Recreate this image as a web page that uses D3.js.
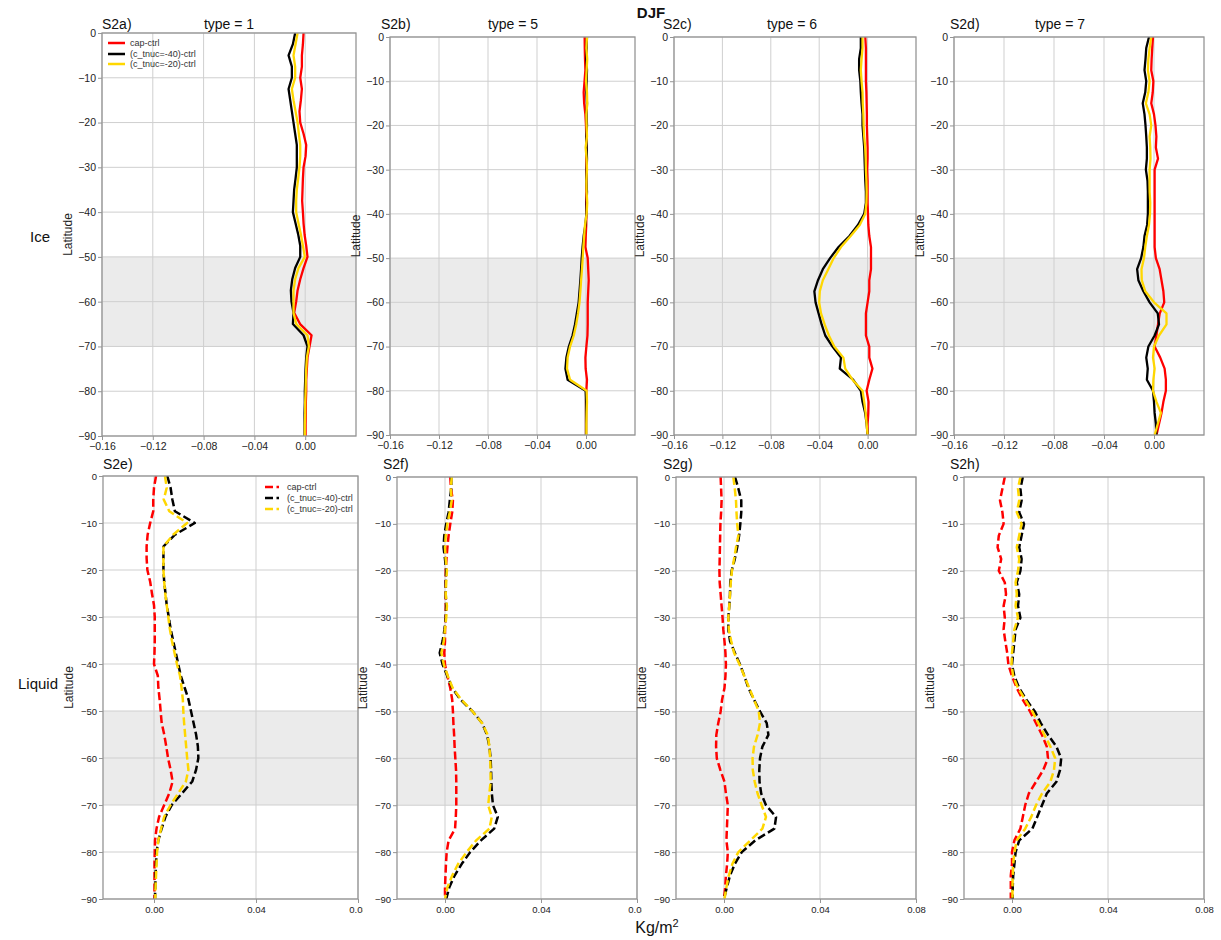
<!DOCTYPE html>
<html><head><meta charset="utf-8">
<script src="https://cdn.jsdelivr.net/npm/d3@7"></script>
<style>body{margin:0;background:#fff} svg{font-family:"Liberation Sans",Arial,Helvetica,sans-serif}</style>
</head><body><svg id="c" width="1221" height="940"></svg>
<script>
// ---------- data (values in 10^-3 Kg/m^2) ----------
const UNIT = 0.001;
const lat = [0,-2.5,-5,-7.5,-10,-12.5,-15,-17.5,-20,-22.5,-25,-27.5,-30,-32.5,-35,-37.5,-40,-42.5,-45,-47.5,-50,-52.5,-55,-57.5,-60,-62.5,-65,-67.5,-70,-72.5,-75,-77.5,-80,-82.5,-85,-87.5,-90];
const latTicks = [0,-10,-20,-30,-40,-50,-60,-70,-80,-90];
const iceTicks = [-0.16,-0.12,-0.08,-0.04,0.00];
const liqTicks = [0.00,0.04,0.08];
const iceDomain = [-0.16,0.04];
const liqDomain = [-0.02,0.08];
const bandLat = [-50,-70];
const seriesNames = ["cap-ctrl","(c_tnuc=-40)-ctrl","(c_tnuc=-20)-ctrl"];
const seriesColors = ["#ff0000","#000000","#ffd700"];
const rowNames = ["Ice","Liquid"];

// Ice, type = 1
const ice_t1_cap = [-1.3,-1.8,-2.6,-2.6,-3.9,-2.6,-3.4,-4.5,-3.9,-1.3,0.8,0.3,-1.3,-1.8,-2.1,-2.4,-1.8,-1.3,-0.5,0.8,1.8,-1.3,-3.9,-6.0,-7.1,-8.7,-4.0,5.0,3.4,1.8,1.3,0.8,0.8,0.5,0.5,0.3,0.3];
const ice_t1_m40 = [-7.9,-9.7,-13.1,-10.5,-10.5,-13.1,-11.8,-10.5,-9.2,-7.9,-6.6,-6.6,-6.6,-7.6,-8.7,-9.2,-9.7,-7.6,-5.5,-3.9,-3.9,-7.9,-10.2,-11.3,-10.8,-9.2,-9.7,-1.3,1.8,0.8,0.3,0,-0.3,-0.3,-0.5,-0.5,-0.5];
const ice_t1_m20 = [-6.0,-7.6,-9.2,-7.9,-7.9,-10.5,-9.2,-7.6,-6.0,-5.0,-3.9,-3.9,-4.5,-5.5,-6.6,-7.1,-7.1,-5.3,-3.4,-1.8,-0.3,-5.3,-7.9,-9.2,-9.2,-9.2,-7.1,1.8,2.9,1.3,0.8,0.5,0.3,0,0,-0.3,-0.3];
// Ice, type = 5
const ice_t5_cap = [-1.1,-1.0,-0.8,-0.5,-1.2,-1.9,-1.5,-0.5,0,0.2,0.3,0.2,0.3,0.2,0.3,0.2,0.3,0.2,-0.2,-0.5,1.4,1.8,2.2,1.8,1.4,1.4,1.4,1.2,0.3,-0.5,-0.3,0.8,0.3,0,0,0,0];
const ice_t5_m40 = [0.8,0.5,0.3,0.8,0.5,0.3,0.8,0.5,0.8,0.3,0.5,0.8,0.5,0.3,0.8,0.5,0.3,-0.5,-1.9,-2.8,-3.5,-4.0,-4.6,-5.3,-6.0,-7.5,-9.0,-11.0,-14.0,-16.0,-16.8,-15.0,-0.3,0,0,0,0];
const ice_t5_m20 = [0.8,0.3,1.0,0.5,0,0.8,1.0,0.3,0.5,0.8,-0.3,0.5,0.8,0.3,0.5,1.0,0.5,-0.8,-1.5,-2.2,-2.7,-3.3,-4.0,-4.6,-5.3,-6.5,-8.0,-10.0,-13.0,-15.0,-15.5,-13.0,0.5,0.8,0.5,0.3,0.3];
// Ice, type = 6
const ice_t6_cap = [-1.9,-1.4,-1.4,-1.4,-1.4,-1.0,-0.8,-0.6,-0.6,-0.3,0,0,-0.3,0,0,0,0.3,0.6,1.4,2.8,2.8,2.8,1.4,1.4,0,-1.4,-1.4,-1.4,1.4,1.4,4.0,1.4,-0.8,0.8,0.6,0,0];
const ice_t6_m40 = [-5.6,-5.6,-7.0,-7.0,-6.0,-5.6,-5.0,-4.2,-4.2,-3.5,-2.8,-2.5,-2.2,-1.9,-1.4,-1.4,-2.8,-8.0,-15.0,-24.0,-31.0,-37.0,-41.0,-44.0,-43.0,-40.5,-38.0,-35.0,-29.0,-22.0,-23.0,-12.0,-5.6,-4.2,-2.0,-0.8,0];
const ice_t6_m20 = [-4.2,-4.2,-5.0,-5.6,-5.0,-4.2,-4.0,-3.5,-3.3,-2.8,-2.0,-1.6,-1.4,-1.0,-0.8,-1.0,-2.0,-6.5,-14.0,-22.0,-28.0,-32.5,-37.0,-39.5,-40.0,-38.5,-35.5,-32.0,-27.5,-20.0,-18.5,-12.5,-4.2,-2.8,-1.6,-0.8,0];
// Ice, type = 7
const ice_t7_cap = [-0.8,-1.4,-1.9,-2.2,-0.5,-1.0,-2.2,0,1.2,1.9,1.5,3.2,0.5,0.5,0.5,0.5,0.5,0.5,0.5,0.5,1.5,4.5,6.0,7.5,8.2,4.6,3.2,1.9,0.5,5.0,8.5,9.5,9.5,7.5,6.0,4.0,2.0];
const ice_t7_m40 = [-4.0,-6.2,-6.8,-7.6,-6.2,-7.0,-9.0,-7.6,-6.8,-6.2,-5.7,-5.7,-6.5,-5.2,-4.9,-4.9,-4.9,-5.5,-7.6,-8.5,-10.3,-13.5,-12.5,-8.5,-3.5,3.0,4.0,0.5,-4.5,-6.2,-5.0,-5.7,-0.8,0,0.5,1.5,1.9];
const ice_t7_m20 = [-2.2,-3.5,-4.5,-4.9,-3.5,-4.5,-6.5,-3.5,-2.2,-3.5,-3.0,-2.8,-3.5,-3.5,-3.5,-3.0,-3.2,-4.0,-5.7,-7.0,-8.0,-10.0,-9.8,-7.0,0,10.0,10.0,4.0,0,-0.8,0.5,-0.5,-0.8,2.0,5.5,3.0,0.5];
// Liquid, type = 1
const liq_t1_cap = [0.8,0,-0.3,-0.3,-1.5,-2.5,-2.9,-2.9,-2.6,-1.5,-0.8,0,0.3,0.3,0.3,0.2,0,1.5,1.7,2.2,2.6,3.0,4.0,4.8,5.5,6.5,7.3,6.0,4.0,2.0,1.0,0.4,0.3,0.2,0.2,0.2,0.2];
const liq_t1_m40 = [5.2,6.5,7.2,8.2,16.0,8.2,3.7,3.7,3.7,4.0,4.5,5.0,5.8,6.5,7.5,8.5,9.5,10.5,12.0,13.5,14.5,15.5,16.5,17.2,17.4,16.5,15.0,11.0,7.0,4.5,3.0,1.7,1.0,0.8,0.6,0.5,0.4];
const liq_t1_m20 = [4.3,5.0,3.8,6.0,13.0,7.5,3.7,3.7,3.7,4.0,4.4,5.0,5.6,6.2,7.0,8.0,9.0,10.2,10.8,11.3,11.5,11.8,12.2,12.6,13.0,13.5,12.5,9.5,6.5,4.0,2.8,1.7,1.2,1.0,0.8,0.6,0.5];
// Liquid, type = 5
const liq_t5_cap = [2.2,2.5,3.3,3.0,2.2,1.5,1.0,0.6,0.3,0.3,0.3,0.3,0.3,0,0,-0.3,0,1.0,2.2,3.0,3.3,3.5,3.8,4.0,4.3,4.6,4.7,4.7,4.7,4.5,4.2,1.5,0.7,0.4,0.2,0,0];
const liq_t5_m40 = [2.6,2.6,2.0,1.5,0.5,-0.3,-0.6,0,0.5,0.3,0.3,0.5,0.3,-0.2,-1.0,-2.2,-1.0,1.0,3.0,6.5,11.5,15.5,17.5,18.5,19.0,19.2,19.3,19.5,20.0,22.0,20.5,15.0,10.5,7.0,4.0,1.8,0.5];
const liq_t5_m20 = [2.8,2.4,2.8,2.0,1.0,0.3,0,0.3,0.8,0.5,0.3,0.8,0.5,0,-0.5,-1.5,-0.5,1.2,3.2,6.8,11.5,15.5,17.8,18.5,18.8,19.0,19.0,18.5,18.0,19.5,18.5,13.0,9.0,5.5,3.0,1.0,0];
// Liquid, type = 6
const liq_t6_cap = [-1.4,-1.2,-1.0,-1.2,-1.5,-1.6,-1.7,-1.8,-1.9,-1.8,-1.4,-1.0,-0.6,-0.3,0.2,0.6,0.8,0.6,0.2,-0.8,-1.4,-2.4,-3.2,-3.3,-3.0,-1.5,0.2,0.8,1.6,1.4,1.2,1.0,1.6,1.3,0.8,0.5,0];
const liq_t6_m40 = [4.6,6.0,7.2,7.2,6.8,6.3,5.5,4.5,3.2,2.6,2.5,2.2,1.8,1.8,2.5,4.5,6.7,8.5,10.2,12.5,15.0,17.8,18.5,16.0,15.0,14.7,14.8,15.5,17.5,21.7,21.0,13.0,7.4,4.5,2.5,1.2,0];
const liq_t6_m20 = [3.9,4.5,5.0,5.2,5.5,6.0,5.0,4.2,3.3,2.8,2.5,2.2,1.8,2.0,3.0,4.2,6.5,8.5,10.5,12.5,14.5,15.0,14.0,12.5,11.9,12.0,12.8,14.0,15.7,17.5,16.0,11.0,6.0,3.5,2.0,1.0,0.2];
// Liquid, type = 7
const liq_t7_cap = [-3.0,-4.0,-5.0,-4.0,-3.5,-5.5,-6.0,-4.5,-5.5,-3.0,-2.5,-3.5,-3.0,-3.5,-2.8,-2.0,-1.5,0,2.0,4.5,7.5,10.0,12.5,14.5,15.0,13.0,10.0,7.0,5.5,4.5,3.5,1.0,0,0,-0.5,-0.5,-0.5];
const liq_t7_m40 = [4.5,3.5,4.0,3.0,5.0,4.0,3.0,4.0,3.5,2.0,3.0,2.5,3.5,1.5,1.0,0.5,0,1.0,3.0,6.0,9.5,12.0,15.0,18.5,20.5,20.0,18.5,14.5,12.5,10.5,8.5,3.0,1.5,1.0,0.5,0.3,0.3];
const liq_t7_m20 = [3.5,2.5,3.0,2.0,4.0,3.0,2.0,3.0,2.5,1.5,2.0,1.5,2.5,1.0,0.5,0,-0.2,0.5,2.5,5.5,8.5,11.0,13.5,16.0,18.0,17.5,16.0,12.5,10.0,8.0,5.5,2.0,1.0,0.5,0.3,0.2,0.2];

// ---------- layout ----------
const panels = [
  {tag:"S2a)", title:"type = 1", data:[ice_t1_cap,ice_t1_m40,ice_t1_m20], ice:true, box:[102,33,254,403], tagX:102, titleX:229, legend:"top"},
  {tag:"S2b)", title:"type = 5", data:[ice_t5_cap,ice_t5_m40,ice_t5_m20], ice:true, box:[390,37,245,398], tagX:381, titleX:513},
  {tag:"S2c)", title:"type = 6", data:[ice_t6_cap,ice_t6_m40,ice_t6_m20], ice:true, box:[674,37,242,398], tagX:663, titleX:792},
  {tag:"S2d)", title:"type = 7", data:[ice_t7_cap,ice_t7_m40,ice_t7_m20], ice:true, box:[954,37,250,398], tagX:950, titleX:1060},
  {tag:"S2e)", data:[liq_t1_cap,liq_t1_m40,liq_t1_m20], ice:false, box:[103,476,255,423], tagX:103, legend:"bottom", clipR:363},
  {tag:"S2f)", data:[liq_t5_cap,liq_t5_m40,liq_t5_m20], ice:false, box:[397,477,240,422], tagX:383, clipR:642},
  {tag:"S2g)", data:[liq_t6_cap,liq_t6_m40,liq_t6_m20], ice:false, box:[676,477,240,422], tagX:663},
  {tag:"S2h)", data:[liq_t7_cap,liq_t7_m40,liq_t7_m20], ice:false, box:[964,477,240,422], tagX:950}
];

const svg = d3.select("#c");
const GRID = "#cfcfcf", FRAME = "#959595", TXT = "#222";

panels.forEach((p, i) => {
  const [x0,y0,w,h] = p.box;
  const x = d3.scaleLinear().domain(p.ice ? iceDomain : liqDomain).range([x0, x0 + w]);
  const y = d3.scaleLinear().domain([0,-90]).range([y0, y0 + h]);
  const xt = p.ice ? iceTicks : liqTicks;
  const g = svg.append("g");

  g.append("rect").attr("x", x0).attr("y", y(bandLat[0])).attr("width", w)
    .attr("height", y(bandLat[1]) - y(bandLat[0])).attr("fill", "#ebebeb");

  g.selectAll(".vg").data(xt).join("line")
    .attr("x1", d => x(d)).attr("x2", d => x(d)).attr("y1", y0).attr("y2", y0 + h)
    .attr("stroke", GRID).attr("stroke-width", 1);
  g.selectAll(".hg").data(latTicks).join("line")
    .attr("x1", x0).attr("x2", x0 + w).attr("y1", d => y(d)).attr("y2", d => y(d))
    .attr("stroke", GRID).attr("stroke-width", 1);

  const cid = "clip" + i;
  svg.append("clipPath").attr("id", cid).append("rect").attr("x", x0).attr("y", y0).attr("width", w).attr("height", h);
  const lg = g.append("g").attr("clip-path", `url(#${cid})`);
  p.data.forEach((vals, k) => {
    const line = d3.line().x((d, j) => x(d * UNIT)).y((d, j) => y(lat[j]));
    lg.append("path").attr("d", line(vals)).attr("fill", "none")
      .attr("stroke", seriesColors[k]).attr("stroke-width", p.ice ? 2.3 : 2.5)
      .attr("stroke-linejoin", "round")
      .attr("stroke-dasharray", p.ice ? null : "8,3.5");
  });

  g.append("rect").attr("x", x0).attr("y", y0).attr("width", w).attr("height", h)
    .attr("fill", "none").attr("stroke", FRAME).attr("stroke-width", 1.3);

  const ax = g.append("g").attr("transform", `translate(0,${y0 + h})`)
    .call(d3.axisBottom(x).tickValues(xt).tickSize(4).tickPadding(3).tickFormat(d3.format(".2f")));
  if (p.clipR) {
    const cx = "clipx" + i;
    svg.append("clipPath").attr("id", cx).append("rect").attr("x", x0 - 40).attr("y", 0).attr("width", p.clipR - x0 + 40).attr("height", 30);
    ax.attr("clip-path", `url(#${cx})`);
  }
  const ay = g.append("g").attr("transform", `translate(${x0},0)`)
    .call(d3.axisLeft(y).tickValues(latTicks).tickSize(4).tickPadding(2).tickFormat(d3.format("d")));
  [ax, ay].forEach(a => {
    a.select(".domain").remove();
    a.selectAll(".tick line").attr("stroke", FRAME);
    a.selectAll(".tick text").attr("fill", TXT).style("font-size", p.ice ? "10.5px" : "9.5px")
      .style("font-family", '"Liberation Sans",Arial,sans-serif');
  });

  g.append("text").attr("x", x0 - 30).attr("y", y0 + h / 2)
    .attr("transform", `rotate(-90,${x0 - 30},${y0 + h / 2})`)
    .attr("text-anchor", "middle").style("font-size", "12px").attr("fill", TXT).text("Latitude");

  const ty = p.ice ? 29 : 469;
  g.append("text").attr("x", p.tagX).attr("y", ty).style("font-size", "14px").attr("fill", "#111").text(p.tag);
  if (p.title) g.append("text").attr("x", p.titleX).attr("y", ty).attr("text-anchor", "middle")
    .style("font-size", "14px").attr("fill", "#111").text(p.title);

  if (p.legend) {
    const top = p.legend === "top";
    const lx = top ? 108 : 265, len = top ? 17 : 14, tx = top ? 130 : 287;
    const ys = top ? [43, 54, 64] : [487, 498, 509];
    seriesNames.forEach((nm, k) => {
      g.append("line").attr("x1", lx).attr("x2", lx + len).attr("y1", ys[k]).attr("y2", ys[k])
        .attr("stroke", seriesColors[k]).attr("stroke-width", 2.5)
        .attr("stroke-dasharray", top ? null : "8,3.5");
      g.append("text").attr("x", tx).attr("y", ys[k] + 3).style("font-size", "9px").attr("fill", "#333").text(nm);
    });
  }
});

svg.append("text").attr("x", 651).attr("y", 18).attr("text-anchor", "middle")
  .style("font-size", "15px").style("font-weight", "bold").attr("fill", "#111").text("DJF");
svg.append("text").attr("x", 40).attr("y", 242).attr("text-anchor", "middle")
  .style("font-size", "15px").attr("fill", "#111").text(rowNames[0]);
svg.append("text").attr("x", 38).attr("y", 689).attr("text-anchor", "middle")
  .style("font-size", "15px").attr("fill", "#111").text(rowNames[1]);
const kt = svg.append("text").attr("x", 657).attr("y", 933).attr("text-anchor", "middle")
  .style("font-size", "16px").attr("fill", "#111");
kt.append("tspan").text("Kg/m");
kt.append("tspan").attr("dy", -6).style("font-size", "11px").text("2");
</script></body></html>
